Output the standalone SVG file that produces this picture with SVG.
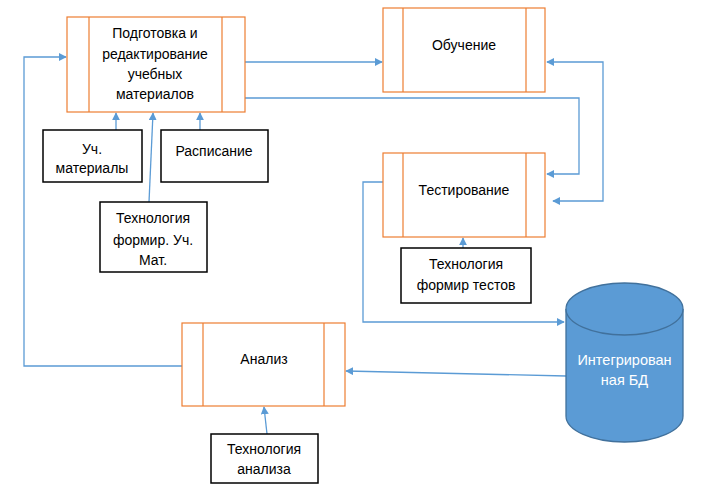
<svg xmlns="http://www.w3.org/2000/svg" width="717" height="491" viewBox="0 0 717 491">
<defs>
<style>
.proc{fill:#fff;stroke:#ed7d31;stroke-width:1.2}
.inner{stroke:#ed7d31;stroke-width:1.2}
.box{fill:#fff;stroke:#000;stroke-width:1.5}
.t{font-family:"Liberation Sans",Arial,sans-serif;font-size:14px;fill:#000;text-anchor:middle}
.tw{font-family:"Liberation Sans",Arial,sans-serif;font-size:14.5px;fill:#fff;text-anchor:middle}
.c{fill:none;stroke:#5b9bd5;stroke-width:1.3}
</style>
<marker id="ah" viewBox="0 0 10 10" refX="9" refY="5" markerWidth="8" markerHeight="8" markerUnits="userSpaceOnUse" orient="auto-start-reverse">
<path d="M0,0 L10,5 L0,10 z" fill="#5b9bd5"/>
</marker>
</defs>
<rect width="717" height="491" fill="#fff"/>
<g id="connectors">
<polyline class="c" points="182,366 24,366 24,57 66,57" marker-end="url(#ah)"/>
<line class="c" x1="245" y1="62" x2="382" y2="62" marker-end="url(#ah)"/>
<polyline class="c" points="245,98 579,98 579,174 547,174" marker-end="url(#ah)"/>
<polyline class="c" points="547,62 603,62 603,201 553,201" marker-start="url(#ah)" marker-end="url(#ah)"/>
<polyline class="c" points="383,182 363,182 363,322 564,322" marker-end="url(#ah)"/>
<line class="c" x1="566" y1="376" x2="346" y2="371" marker-end="url(#ah)"/>
<line class="c" x1="116" y1="130" x2="116" y2="113" marker-end="url(#ah)"/>
<line class="c" x1="200" y1="130" x2="200" y2="113" marker-end="url(#ah)"/>
<line class="c" x1="149" y1="202" x2="153" y2="113" marker-end="url(#ah)"/>
<line class="c" x1="463" y1="248" x2="463" y2="238" marker-end="url(#ah)"/>
<line class="c" x1="267" y1="434" x2="264" y2="407" marker-end="url(#ah)"/>
</g>
<g id="podgotovka">
<rect class="proc" x="67" y="17" width="178" height="95"/>
<line class="inner" x1="89" y1="17" x2="89" y2="112"/>
<line class="inner" x1="222" y1="17" x2="222" y2="112"/>
<text class="t" x="155" y="38">Подготовка и</text>
<text class="t" x="155" y="59">редактирование</text>
<text class="t" x="155" y="79">учебных</text>
<text class="t" x="155" y="99">материалов</text>
</g>
<g id="obuchenie">
<rect class="proc" x="383" y="8" width="162" height="84"/>
<line class="inner" x1="403" y1="8" x2="403" y2="92"/>
<line class="inner" x1="526" y1="8" x2="526" y2="92"/>
<text class="t" x="464" y="50">Обучение</text>
</g>
<g id="testirovanie">
<rect class="proc" x="383" y="153" width="162" height="84"/>
<line class="inner" x1="403" y1="153" x2="403" y2="237"/>
<line class="inner" x1="526" y1="153" x2="526" y2="237"/>
<text class="t" x="464" y="195">Тестирование</text>
</g>
<g id="analiz">
<rect class="proc" x="182" y="323" width="163" height="83"/>
<line class="inner" x1="203" y1="323" x2="203" y2="406"/>
<line class="inner" x1="324" y1="323" x2="324" y2="406"/>
<text class="t" x="264" y="364">Анализ</text>
</g>
<g id="uch-materialy">
<rect class="box" x="43" y="130" width="99" height="52"/>
<text class="t" x="92" y="154">Уч.</text>
<text class="t" x="92" y="173">материалы</text>
</g>
<g id="raspisanie">
<rect class="box" x="161" y="130" width="107" height="52"/>
<text class="t" x="214" y="156">Расписание</text>
</g>
<g id="tech-uch-mat">
<rect class="box" x="100" y="202" width="107" height="70"/>
<text class="t" x="153" y="223">Технология</text>
<text class="t" x="153" y="245">формир. Уч.</text>
<text class="t" x="153" y="265">Мат.</text>
</g>
<g id="tech-testov">
<rect class="box" x="401" y="248" width="130" height="55"/>
<text class="t" x="466" y="269">Технология</text>
<text class="t" x="466" y="290">формир тестов</text>
</g>
<g id="tech-analiza">
<rect class="box" x="211" y="434" width="107" height="49"/>
<text class="t" x="264" y="454">Технология</text>
<text class="t" x="264" y="474">анализа</text>
</g>
<g id="bd">
<path d="M566,309 L566,416 A58.5,26 0 0 0 683,416 L683,309" fill="#5b9bd5" stroke="#41719c" stroke-width="1.3"/>
<ellipse cx="624.5" cy="309" rx="58.5" ry="26" fill="#5b9bd5" stroke="#41719c" stroke-width="1.3"/>
<text class="tw" x="624.5" y="365">Интегрирован</text>
<text class="tw" x="624.5" y="385">ная БД</text>
</g>
</svg>
